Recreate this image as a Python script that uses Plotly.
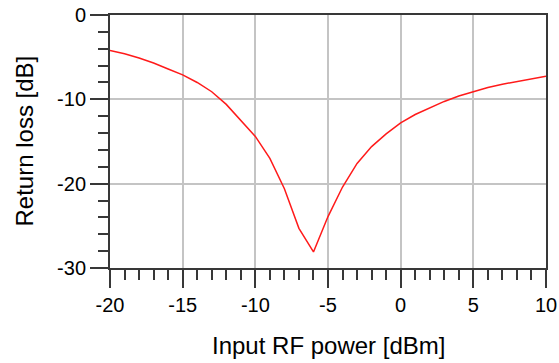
import plotly.graph_objects as go

# Measured return loss versus input RF power
power_dbm = [-20, -19, -18, -17, -16, -15, -14, -13, -12, -11, -10, -9, -8, -7, -6,
             -5, -4, -3, -2, -1, 0, 1, 2, 3, 4, 5, 6, 7, 8, 9, 10]
return_loss_db = [-4.2, -4.6, -5.1, -5.7, -6.4, -7.1, -8.0, -9.1, -10.6, -12.5, -14.4,
                  -17.0, -20.6, -25.3, -28.1, -23.9, -20.4, -17.6, -15.6, -14.1, -12.8,
                  -11.8, -11.0, -10.25, -9.6, -9.06, -8.6, -8.2, -7.87, -7.55, -7.27]

x_ticks = [-20, -15, -10, -5, 0, 5, 10]
y_ticks = [-30, -20, -10, 0]

x_title = "Input RF power [dBm]"
y_title = "Return loss [dB]"

font_family = "Liberation Sans, Arial, sans-serif"
axis_color = "#383838"
grid_color = "#c4c4c4"

fig = go.Figure(
    go.Scatter(
        x=power_dbm,
        y=return_loss_db,
        mode="lines",
        line=dict(color="#ff1a1a", width=1.5),
        showlegend=False,
    )
)

common_axis = dict(
    showline=True,
    linecolor=axis_color,
    linewidth=2,
    mirror=True,
    ticks="outside",
    ticklen=18,
    tickwidth=2,
    tickcolor=axis_color,
    showgrid=True,
    gridcolor=grid_color,
    gridwidth=1.5,
    zeroline=False,
    automargin=False,
    tickfont=dict(family=font_family, size=20, color="black"),
)

fig.update_xaxes(
    **common_axis,
    range=[-20, 10],
    tickvals=x_ticks,
    ticktext=[str(v) for v in x_ticks],
    minor=dict(dtick=1, tick0=-20, ticks="outside", ticklen=10, tickwidth=1.5,
               tickcolor=axis_color, showgrid=False),
)
fig.update_yaxes(
    **common_axis,
    range=[-30, 0],
    tickvals=y_ticks,
    ticktext=[str(v) for v in y_ticks],
    minor=dict(dtick=2, tick0=0, ticks="outside", ticklen=10, tickwidth=1.5,
               tickcolor=axis_color, showgrid=False),
)

title_font = dict(family=font_family, size=24, color="black")
fig.add_annotation(text=x_title, xref="paper", yref="paper", x=0.5, y=0,
                   xanchor="center", yanchor="middle", yshift=-77,
                   showarrow=False, font=title_font)
fig.add_annotation(text=y_title, xref="paper", yref="paper", x=0, y=0.5,
                   xanchor="center", yanchor="middle", xshift=-86, textangle=-90,
                   showarrow=False, font=title_font)

fig.update_layout(
    width=559,
    height=363,
    margin=dict(l=110, r=13, t=15, b=95),
    paper_bgcolor="white",
    plot_bgcolor="white",
)

fig.write_html("out.html")
